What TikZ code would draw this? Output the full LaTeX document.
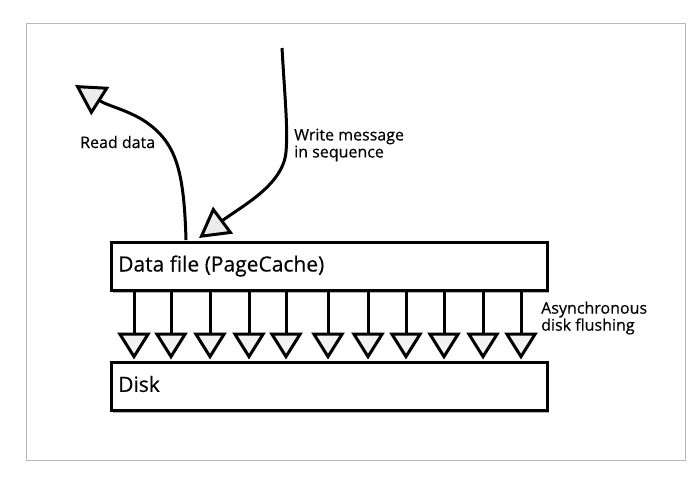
\documentclass[tikz,border=0pt]{standalone}
\usepackage{fontspec}
\setmainfont{Open Sans}[FakeBold=0.4]
\usetikzlibrary{arrows.meta,shadows}
\begin{document}
\begin{tikzpicture}[x=1pt,y=-1pt,
  box/.style={draw=black, line width=3pt, fill=white, minimum width=436pt, minimum height=48pt, anchor=north west,
    drop shadow={shadow xshift=1.5pt, shadow yshift=-2pt, opacity=0.3, fill=black}},
  boxtext/.style={font=\fontsize{21}{24}\selectfont, anchor=west, inner sep=0pt},
  lbl/.style={font=\fontsize{16}{17}\selectfont, align=left, anchor=west, inner sep=0pt},
  conn/.style={line width=3pt},
  headA/.style={-{Triangle[open, fill=gray!15, length=30pt, width=33pt]}},
  headF/.style={-{Triangle[open, fill=gray!10, length=27pt, width=33pt]}},
]
\fill[white] (0,0) rectangle (700,483);
\draw[gray!55, line width=1pt] (26,23) rectangle (685,460);

\node[box] (df) at (110,241) {};
\node[box] (disk) at (110,361) {};
\node[boxtext] (dft) at (118,266) {Data file (PageCache)};
\node[boxtext] (diskt) at (118,384) {Disk};

\foreach \i/\x in {1/134,2/171,3/210,4/249,5/286,6/328,7/368,8/406,9/444,10/483,11/521}{
  \draw[conn, headF] (df.south -| {\x,0}) -- ([yshift=1.5pt]disk.north -| {\x,0});
}

\coordinate (readend) at (75,85);
\coordinate (readstart) at (186,240);
\coordinate (writestart) at (282,48);
\coordinate (writeend) at (199,238);

\draw[conn, headA] (readstart) .. controls (184,170) and (176,143) .. (146,122)
   .. controls (128,110) and (108,106) .. (readend);
\draw[conn, headA] (writestart) .. controls (285,100) and (288,128) .. (286,152)
   .. controls (283,185) and (242,206) .. (writeend);

\node[lbl] (rd) at (80,142) {Read data};
\node[lbl] (wm) at (294,145) {Write message\\in sequence};
\node[lbl] (af) at (541,318) {Asynchronous\\disk flushing};
\end{tikzpicture}
\end{document}
